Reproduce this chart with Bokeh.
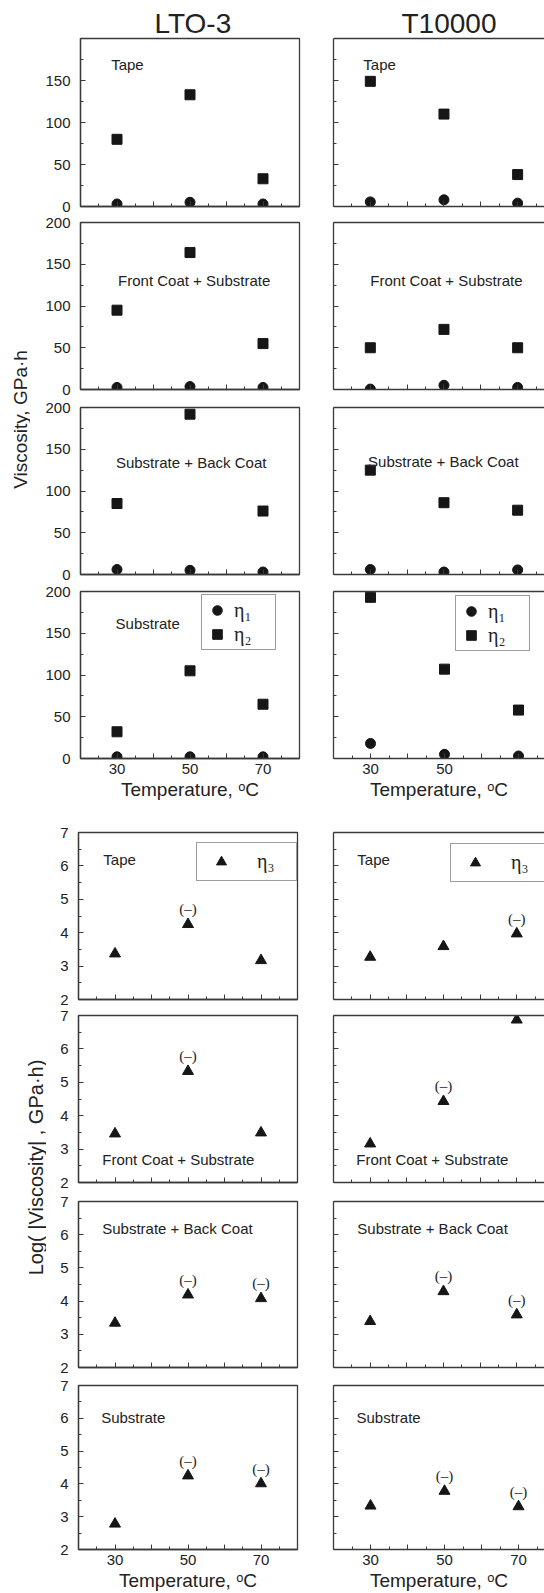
import math

from bokeh.core.properties import value
from bokeh.embed import file_html
from bokeh.layouts import column, row
from bokeh.models import (ColumnDataSource, FixedTicker, Label, Legend, LegendItem,
                          LinearAxis, Range1d, Title)
from bokeh.plotting import figure
from bokeh.resources import INLINE

# ---------------------------------------------------------------- data
temperature = [30, 50, 70]                       # test temperature, deg C
tape_names = ["LTO-3", "T10000"]
layer_names = ["Tape", "Front Coat + Substrate", "Substrate + Back Coat", "Substrate"]

# eta1 and eta2, GPa·h
lto3_tape_eta1 = [3, 5, 3]
lto3_tape_eta2 = [80, 133, 33]
lto3_front_eta1 = [2.5, 3.5, 2.5]
lto3_front_eta2 = [95, 164, 55]
lto3_back_eta1 = [6, 5, 3]
lto3_back_eta2 = [85, 192, 76]
lto3_sub_eta1 = [2, 2, 2]
lto3_sub_eta2 = [32, 105, 65]

t10k_tape_eta1 = [5.5, 8, 4]
t10k_tape_eta2 = [149, 110, 38]
t10k_front_eta1 = [0.5, 5, 2.5]
t10k_front_eta2 = [50, 72, 50]
t10k_back_eta1 = [6, 3, 5.5]
t10k_back_eta2 = [125, 86, 77]
t10k_sub_eta1 = [18, 5, 3]
t10k_sub_eta2 = [193, 107, 58]

# log10(|eta3|, GPa·h) and whether eta3 is negative
lto3_tape_eta3 = [3.37, 4.25, 3.17]
lto3_tape_neg = [False, True, False]
lto3_front_eta3 = [3.46, 5.33, 3.49]
lto3_front_neg = [False, True, False]
lto3_back_eta3 = [3.34, 4.19, 4.08]
lto3_back_neg = [False, True, True]
lto3_sub_eta3 = [2.78, 4.25, 4.01]
lto3_sub_neg = [False, True, True]

t10k_tape_eta3 = [3.27, 3.59, 3.97]
t10k_tape_neg = [False, False, True]
t10k_front_eta3 = [3.16, 4.43, 6.87]
t10k_front_neg = [False, True, False]
t10k_back_eta3 = [3.39, 4.29, 3.59]
t10k_back_neg = [False, True, True]
t10k_sub_eta3 = [3.33, 3.78, 3.31]
t10k_sub_neg = [False, True, True]

# axis ticks
x_major = [30, 40, 50, 60, 70]
x_minor = [25, 35, 45, 55, 65, 75]
lin_major = [0, 50, 100, 150, 200]
lin_minor = [25, 75, 125, 175]
log_major = [2, 3, 4, 5, 6, 7]
log_minor = [2.5, 3.5, 4.5, 5.5, 6.5]

# ---------------------------------------------------------------- style
SANS = "Liberation Sans"
SERIF = "Liberation Serif"
INK = "#161616"
FRAME = "#3a3a3a"
TEXT = "#222222"
X_LO, X_HI = 20, 80
PX_PER_DEG = 222 / (X_HI - X_LO)


def style_axis(ax, show_labels, standoff=10):
    ax.axis_line_color = FRAME
    ax.axis_line_width = 1.3
    ax.major_tick_line_color = FRAME
    ax.minor_tick_line_color = FRAME
    ax.major_tick_in, ax.major_tick_out = 5, 0
    ax.minor_tick_in, ax.minor_tick_out = 3, 0
    ax.major_label_text_font = SANS
    if show_labels:
        ax.major_label_text_color = TEXT
        ax.major_label_text_font_size = "15px"
        ax.major_label_standoff = standoff
    else:
        # ticks only, no tick labels
        ax.major_label_text_color = None
        ax.major_label_text_font_size = "1px"
        ax.major_label_standoff = 0


def make_panel(fig_w, fig_h, b_left, b_top, frame_w, frame_h, y_lo, y_hi,
               y_ticks, y_minor, boxed, y_labels, x_labels, x_title=None,
               title=None, title_offset=0):
    x_hi = X_HI if boxed else X_LO + frame_w / PX_PER_DEG
    p = figure(width=fig_w, height=fig_h, title=None,
               x_range=Range1d(X_LO, x_hi), y_range=Range1d(y_lo, y_hi),
               x_axis_type=None, y_axis_type=None,
               toolbar_location=None, output_backend="svg",
               min_border_left=b_left, min_border_right=fig_w - b_left - frame_w,
               min_border_top=b_top, min_border_bottom=fig_h - b_top - frame_h)
    p.background_fill_color = "white"
    p.border_fill_color = "white"
    p.outline_line_color = FRAME if boxed else None
    p.outline_line_width = 1.3

    xa = LinearAxis(ticker=FixedTicker(ticks=x_major, minor_ticks=x_minor))
    style_axis(xa, bool(x_labels), standoff=5)
    if x_labels:
        xa.major_label_overrides = {t: (str(t) if t in x_labels else "") for t in x_major}
    if x_title:
        xa.axis_label = x_title
        xa.axis_label_text_font = SANS
        xa.axis_label_text_font_size = "19px"
        xa.axis_label_text_font_style = "normal"
        xa.axis_label_text_color = TEXT
        xa.axis_label_standoff = 2
    p.add_layout(xa, "below")

    ya = LinearAxis(ticker=FixedTicker(ticks=y_ticks, minor_ticks=y_minor))
    style_axis(ya, y_labels, standoff=10)
    p.add_layout(ya, "left")

    if not boxed:
        # top edge of a panel whose right edge runs off the page
        top = LinearAxis(ticker=FixedTicker(ticks=[]))
        top.axis_line_color = FRAME
        top.axis_line_width = 1.3
        top.major_label_text_color = None
        top.major_label_text_font_size = "1px"
        top.major_label_standoff = 0
        top.major_tick_line_color = None
        top.minor_tick_line_color = None
        p.add_layout(top, "above")

    if title:
        p.add_layout(Title(text=title, align="left", offset=title_offset,
                           text_font=SANS, text_font_size="28px",
                           text_font_style="normal", text_color=TEXT,
                           standoff=0), "above")
    return p


def tag(p, x, y, text):
    p.add_layout(Label(x=x, y=y, text=text, text_font=SANS, text_font_size="15px",
                       text_color=TEXT, text_align="left", text_baseline="middle"))


def eta12(p, eta1, eta2):
    r1 = p.scatter(temperature, eta1, marker="circle", size=10,
                   fill_color=INK, line_color=INK)
    r2 = p.scatter(temperature, eta2, marker="square", size=10,
                   fill_color=INK, line_color=INK)
    return r1, r2


def eta3(p, vals, neg):
    r = p.scatter(temperature, vals, marker="triangle", size=11,
                  fill_color=INK, line_color=INK)
    src = ColumnDataSource(dict(
        x=[t for t, n in zip(temperature, neg) if n],
        y=[v for v, n in zip(vals, neg) if n],
        s=["(–)" for n in neg if n]))
    p.text(x="x", y="y", text="s", source=src, text_align="center",
           text_baseline="middle", y_offset=-15, text_font=value(SERIF),
           text_font_size=value("15px"), text_color=TEXT)
    return r


def legend(p, items, loc, glyph_w, glyph_h, padding, standoff, label_w):
    p.add_layout(Legend(items=items, location=loc, orientation="vertical",
                        glyph_width=glyph_w, glyph_height=glyph_h,
                        padding=padding, spacing=0, margin=0,
                        label_standoff=standoff, label_width=label_w,
                        label_height=glyph_h,
                        label_text_font=SERIF, label_text_font_size="20px",
                        label_text_color=TEXT, border_line_color=FRAME,
                        border_line_width=1.3, background_fill_color="white",
                        background_fill_alpha=1.0))


def strip(w, h, text, cx, cy, size):
    s = figure(width=w, height=h, title=None, x_range=Range1d(0, w),
               y_range=Range1d(h, 0), x_axis_type=None, y_axis_type=None,
               toolbar_location=None, output_backend="svg", min_border=0)
    s.outline_line_color = None
    s.background_fill_color = "white"
    s.border_fill_color = "white"
    s.add_layout(Label(x=cx, y=cy, text=text, angle=math.pi / 2,
                       text_align="center", text_baseline="middle",
                       text_font=SANS, text_font_size=size, text_color=TEXT))
    return s


# ---------------------------------------------------------------- upper block: eta1, eta2
TEMP_TITLE = "Temperature, ᵒC"
rows_top = [(214, 38, 168), (184, 8, 167), (184, 9, 167), (228, 9, 167)]
left_top_x = [(47, 222), (47, 222), (47, 222), (50, 221)]
right_top_x = [(17, 212), (17, 212), (17, 212), (18, 211)]
lin_ticks = [lin_major[:-1], lin_major, lin_major, lin_major]

lto3_12 = [(lto3_tape_eta1, lto3_tape_eta2), (lto3_front_eta1, lto3_front_eta2),
           (lto3_back_eta1, lto3_back_eta2), (lto3_sub_eta1, lto3_sub_eta2)]
t10k_12 = [(t10k_tape_eta1, t10k_tape_eta2), (t10k_front_eta1, t10k_front_eta2),
           (t10k_back_eta1, t10k_back_eta2), (t10k_sub_eta1, t10k_sub_eta2)]
tag_top_lto3 = [(28.4, 169), (30.3, 130), (29.7, 134), (29.6, 162)]
tag_top_t10k = [(28.1, 169), (30.0, 130), (29.4, 135), None]

left_col, right_col = [], []
for i in range(4):
    fh, bt, frh = rows_top[i]
    last = i == 3
    # LTO-3
    bl, fw = left_top_x[i]
    p = make_panel(285, fh, bl, bt, fw, frh, 0, 200, lin_ticks[i], lin_minor,
                   boxed=True, y_labels=True,
                   x_labels=[30, 50, 70] if last else None,
                   x_title=TEMP_TITLE if last else None,
                   title=tape_names[0] if i == 0 else None, title_offset=74)
    r1, r2 = eta12(p, *lto3_12[i])
    tag(p, *tag_top_lto3[i], layer_names[i])
    if last:
        legend(p, [LegendItem(label="η₁", renderers=[r1]),
                   LegendItem(label="η₂", renderers=[r2])],
               (121, 108), 24, 24, 3, 5, 38)
    left_col.append(p)
    # T10000
    bl, fw = right_top_x[i]
    q = make_panel(229, fh, bl, bt, fw, frh, 0, 200, lin_ticks[i], lin_minor,
                   boxed=False, y_labels=False,
                   x_labels=[30, 50] if last else None,
                   x_title=TEMP_TITLE if last else None,
                   title=tape_names[1] if i == 0 else None, title_offset=68)
    s1, s2 = eta12(q, *t10k_12[i])
    if tag_top_t10k[i]:
        tag(q, *tag_top_t10k[i], layer_names[i])
    if last:
        legend(q, [LegendItem(label="η₁", renderers=[s1]),
                   LegendItem(label="η₂", renderers=[s2])],
               (122, 107), 24, 24, 3, 5, 38)
    right_col.append(q)

upper = row(strip(30, 810, "Viscosity, GPa·h", 20, 419, "19px"),
            column(*left_col), column(*right_col))

# ---------------------------------------------------------------- lower block: eta3
rows_bot = [(197, 22, 167), (184, 8, 167), (185, 10, 166), (217, 9, 166)]
left_bot_x = [(29, 222), (29, 222), (29, 222), (32, 221)]
right_bot_x = [(16, 213), (16, 213), (16, 213), (18, 211)]
lto3_3 = [(lto3_tape_eta3, lto3_tape_neg), (lto3_front_eta3, lto3_front_neg),
          (lto3_back_eta3, lto3_back_neg), (lto3_sub_eta3, lto3_sub_neg)]
t10k_3 = [(t10k_tape_eta3, t10k_tape_neg), (t10k_front_eta3, t10k_front_neg),
          (t10k_back_eta3, t10k_back_neg), (t10k_sub_eta3, t10k_sub_neg)]
tag_bot_lto3 = [(26.8, 6.19), (26.5, 2.69), (26.5, 6.2), (26.2, 6.02)]
tag_bot_t10k = [(26.5, 6.19), (26.2, 2.69), (26.5, 6.2), (26.2, 6.02)]

left_col, right_col = [], []
for i in range(4):
    fh, bt, frh = rows_bot[i]
    last = i == 3
    bl, fw = left_bot_x[i]
    p = make_panel(269, fh, bl, bt, fw, frh, 2, 7, log_major, log_minor,
                   boxed=True, y_labels=True,
                   x_labels=[30, 50, 70] if last else None,
                   x_title=TEMP_TITLE if last else None)
    r = eta3(p, *lto3_3[i])
    tag(p, *tag_bot_lto3[i], layer_names[i])
    if i == 0:
        legend(p, [LegendItem(label="η₃", renderers=[r])],
               (118, 118), 36, 25, 6, 18, 33)
    left_col.append(p)

    bl, fw = right_bot_x[i]
    q = make_panel(229, fh, bl, bt, fw, frh, 2, 7, log_major, log_minor,
                   boxed=False, y_labels=False,
                   x_labels=[30, 50, 70] if last else None,
                   x_title=TEMP_TITLE if last else None)
    s = eta3(q, *t10k_3[i])
    tag(q, *tag_bot_t10k[i], layer_names[i])
    if i == 0:
        legend(q, [LegendItem(label="η₃", renderers=[s])],
               (117, 117), 36, 25, 6, 18, 40)
    right_col.append(q)

lower = row(strip(46, 783, "Log( |Viscosity| , GPa·h)", 35, 357, "20px"),
            column(*left_col), column(*right_col))

layout = column(upper, lower)

open("out.html", "w").write(file_html(layout, INLINE))
